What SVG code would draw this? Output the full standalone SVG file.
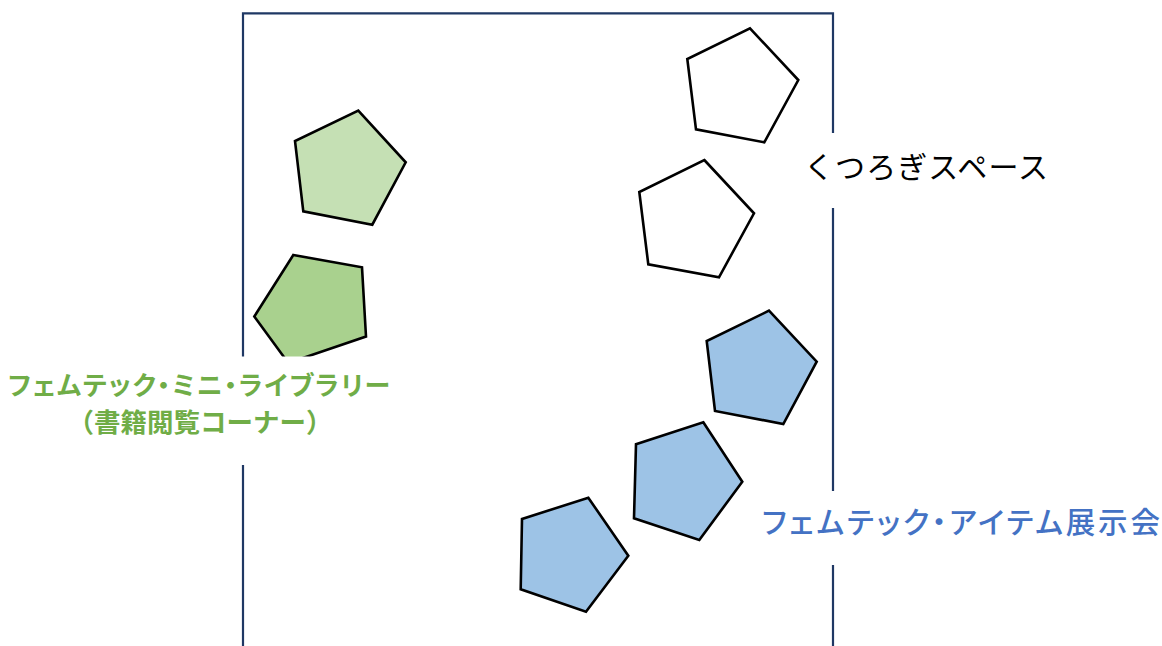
<svg xmlns="http://www.w3.org/2000/svg" width="1162" height="646" viewBox="0 0 1162 646">
<style>
.frame{fill:none;stroke:#1F3864;stroke-width:2.2}
.pent{stroke:#000;stroke-width:2.6;stroke-linejoin:miter}
.lg{fill:#C5E0B4}.dg{fill:#A9D18E}.wh{fill:#FFFFFF}.bl{fill:#9DC3E6}
.box{fill:#FFFFFF;stroke:none}
.t{font-family:"Noto Sans CJK JP","Noto Sans",sans-serif;dominant-baseline:central}
.p{font-feature-settings:"palt" 1}
</style>
<rect width="1162" height="646" fill="#FFFFFF"/>
<g id="frame">
<path class="frame" d="M243,660 V13.3 H833 V660"/>
</g>
<g id="connectors"></g>
<g id="library-1"><polygon class="pent lg" points="358.3,110.7 405.7,162.3 372.3,224.7 303.3,211.3 295,141"/></g>
<g id="library-2"><polygon class="pent dg" points="293.3,255 362,267.3 366,336.5 288.3,362.9 254.3,316.5"/></g>
<g id="lounge-1"><polygon class="pent wh" points="750,28.3 798.3,80 764.3,142.3 696,129.3 687.3,59"/></g>
<g id="lounge-2"><polygon class="pent wh" points="704.3,160 754,213.3 719,277.3 648.3,264.3 639.3,192"/></g>
<g id="exhibit-1"><polygon class="pent bl" points="769,310.7 816.7,361.7 783.3,424 715,411 706.7,341"/></g>
<g id="exhibit-2"><polygon class="pent bl" points="703.3,422.3 742.3,481.7 699.3,540 634,518.3 636,444.3"/></g>
<g id="exhibit-3"><polygon class="pent bl" points="588.3,497.7 628.3,555.7 586,611.7 520.7,589.3 522,519"/></g>
<g id="label-library">
<rect class="box" x="4" y="356.5" width="392" height="108.5"/>
<text class="t p" x="199" y="383" text-anchor="middle" font-size="26" font-weight="bold" fill="#70AD47" textLength="382" lengthAdjust="spacing">フェムテック・ミニ・ライブラリー</text>
<text class="t" x="200" y="420" text-anchor="middle" font-size="26.5" font-weight="bold" fill="#70AD47">（書籍閲覧コーナー）</text>
</g>
<g id="label-lounge">
<rect class="box" x="795" y="133" width="265" height="75"/>
<text class="t" x="926" y="165" text-anchor="middle" font-size="30" fill="#000000" textLength="244" lengthAdjust="spacing">くつろぎスペース</text>
</g>
<g id="label-exhibit">
<rect class="box" x="755" y="491" width="407" height="74"/>
<text class="t p" x="961" y="520" text-anchor="middle" font-size="29.5" font-weight="500" fill="#4472C4" textLength="398" lengthAdjust="spacing">フェムテック・アイテム展示会</text>
</g>
</svg>
